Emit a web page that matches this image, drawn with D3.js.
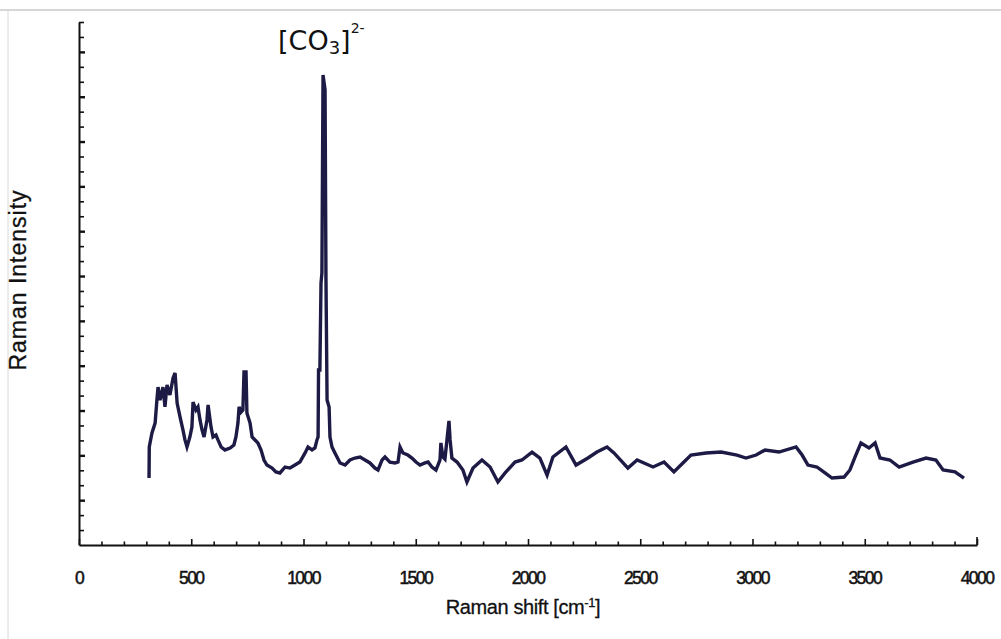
<!DOCTYPE html>
<html><head><meta charset="utf-8">
<script src="https://cdn.jsdelivr.net/npm/d3@7"></script>
<style>body{margin:0;background:#fff}svg{display:block}</style>
</head><body>
<svg id="c" width="1001" height="639"></svg>
<script>
// Raman shift (cm^-1)
const shift = [312,313,325,339,347,352,361,374,383,392,405,419,428,437,450,463,472,481,494,503,508,521,530,539,548,557,570,575,588,597,610,619,633,650,673,690,699,708,713,722,730,735,744,748,762,771,784,797,811,824,837,860,877,895,918,940,962,984,1007,1020,1038,1051,1060,1065,1067,1073,1078,1082,1087,1096,1100,1105,1114,1118,1127,1140,1163,1185,1207,1229,1252,1274,1296,1318,1332,1350,1363,1385,1408,1421,1430,1443,1465,1483,1501,1519,1541,1555,1572,1590,1599,1608,1612,1621,1630,1639,1648,1653,1661,1684,1710,1728,1755,1795,1831,1866,1898,1942,1973,2018,2053,2085,2111,2169,2214,2267,2307,2352,2383,2445,2486,2557,2606,2650,2690,2726,2793,2860,2931,2971,3016,3056,3118,3194,3221,3247,3287,3323,3354,3408,3434,3457,3483,3519,3546,3568,3612,3653,3715,3773,3817,3849,3902,3942];
// Raman intensity (a.u.)
const intensity = [4.48,6.56,7.50,8.16,9.70,10.57,9.70,10.57,9.24,10.71,10.04,11.18,11.51,9.50,8.57,7.70,7.03,6.56,7.23,7.90,9.57,9.03,9.24,8.37,7.70,7.23,8.37,9.37,7.90,7.23,7.36,7.03,6.56,6.36,6.49,6.69,7.23,8.16,9.24,8.90,9.03,11.58,11.58,8.83,8.16,7.23,7.03,6.83,6.36,5.69,5.35,5.15,4.89,4.82,5.22,5.15,5.35,5.55,6.16,6.56,6.36,6.49,7.03,7.23,11.71,11.71,17.53,18.20,31.45,30.45,17.93,9.70,9.24,7.23,6.56,6.16,5.49,5.35,5.69,5.82,5.89,5.69,5.49,5.15,5.02,5.69,5.89,5.55,5.49,5.55,6.56,6.16,6.02,5.82,5.55,5.35,5.49,5.55,5.22,5.02,5.35,5.69,6.83,5.89,5.75,7.03,8.30,7.03,5.82,5.55,5.02,4.22,5.15,5.69,5.22,4.22,4.82,5.55,5.69,6.22,5.82,4.68,5.89,6.56,5.35,5.82,6.22,6.56,6.16,5.15,5.69,5.22,5.55,4.89,5.49,6.02,6.16,6.22,6.02,5.82,6.02,6.36,6.22,6.56,6.02,5.35,5.22,4.82,4.48,4.55,5.02,5.89,6.83,6.49,6.83,5.82,5.69,5.22,5.55,5.82,5.69,5.02,4.89,4.48];
const xTickLabels = [0,500,1000,1500,2000,2500,3000,3500,4000];
const xMinorStep = 100;
const yTickCount = 35;

const svg = d3.select("#c");
const x = d3.scaleLinear().domain([0,4000]).range([79,977]);
const y = d3.scaleLinear().domain([0,35]).range([545,22]);

// frame lines of the scanned figure
svg.append("line").attr("x1",0).attr("x2",1001).attr("y1",10).attr("y2",10).attr("stroke","#c8c8c8").attr("stroke-width",1.5);
svg.append("line").attr("x1",8).attr("x2",8).attr("y1",10).attr("y2",639).attr("stroke","#d8d8d8").attr("stroke-width",1);

// spectrum
const pts = shift.map((s,i)=>[s,intensity[i]]);
const line = d3.line().x(d=>x(d[0])).y(d=>y(d[1]));
svg.append("path").datum(pts).attr("d",line).attr("fill","none")
  .attr("stroke","#1d1b45").attr("stroke-width",3.4).attr("stroke-linejoin","miter");

// x axis: minor ticks
const minor = d3.range(0,4001,xMinorStep);
const xAxis = d3.axisBottom(x).tickValues(minor).tickSize(0).tickFormat("");
const gx = svg.append("g").attr("transform","translate(0,545)").call(xAxis);
gx.select(".domain").attr("stroke","#111").attr("stroke-width",2);
gx.selectAll(".tick line").remove();
gx.selectAll(".tick").append("line").attr("y1",0)
  .attr("y2",d=> (d%500===0)? -6 : -3.5).attr("stroke","#111").attr("stroke-width",1.6);
gx.selectAll(".tick text").remove();
// major labels
svg.append("g").selectAll("text").data(xTickLabels).join("text")
  .attr("x",d=>x(d)).attr("y",584).attr("text-anchor","middle")
  .attr("font-family","Liberation Sans, Arial, sans-serif").attr("font-size",17.5)
  .attr("letter-spacing","-1.6").attr("fill","#111").attr("stroke","#111").attr("stroke-width",0.5)
  .text(d=>d);

// y axis
const yAxis = d3.axisLeft(y).tickValues(d3.range(0,yTickCount+1)).tickSize(0).tickFormat("");
const gy = svg.append("g").attr("transform","translate(79,0)").call(yAxis);
gy.select(".domain").attr("stroke","#111").attr("stroke-width",2);
gy.selectAll(".tick line").remove();
gy.selectAll(".tick").filter(d=>d>0).append("line").attr("x1",0)
  .attr("x2",d=> (d%3===0)? 6 : 5).attr("stroke","#111").attr("stroke-width",d=>(d%3===0)?2.4:1.6);

// right end tick of x axis
svg.append("line").attr("x1",x(4000)).attr("x2",x(4000)).attr("y1",545).attr("y2",537).attr("stroke","#111").attr("stroke-width",1.6);

// axis titles
svg.append("text").attr("x",523).attr("y",614).attr("text-anchor","middle")
  .attr("font-family","Liberation Sans, Arial, sans-serif").attr("font-size",20).attr("letter-spacing","-0.4")
  .attr("fill","#111").attr("stroke","#111").attr("stroke-width",0.3)
  .html('Raman shift [cm<tspan dy="-7" font-size="13">-1</tspan><tspan dy="7">]</tspan>');
svg.append("text").attr("transform","translate(26,280) rotate(-90)").attr("text-anchor","middle")
  .attr("font-family","Liberation Sans, Arial, sans-serif").attr("font-size",23).attr("letter-spacing","1")
  .attr("fill","#111").attr("stroke","#111").attr("stroke-width",0.3).text("Raman Intensity");

// peak annotation
const lab = svg.append("text").attr("x",278).attr("y",50)
  .attr("font-family","DejaVu Sans, Verdana, sans-serif").attr("font-size",27).attr("fill","#111");
lab.append("tspan").text("[CO");
lab.append("tspan").attr("font-size",18).attr("dy",4).text("3");
lab.append("tspan").attr("dy",-4).text("]");
lab.append("tspan").attr("font-size",14).attr("dy",-17).text("2-");
</script>
</body></html>
